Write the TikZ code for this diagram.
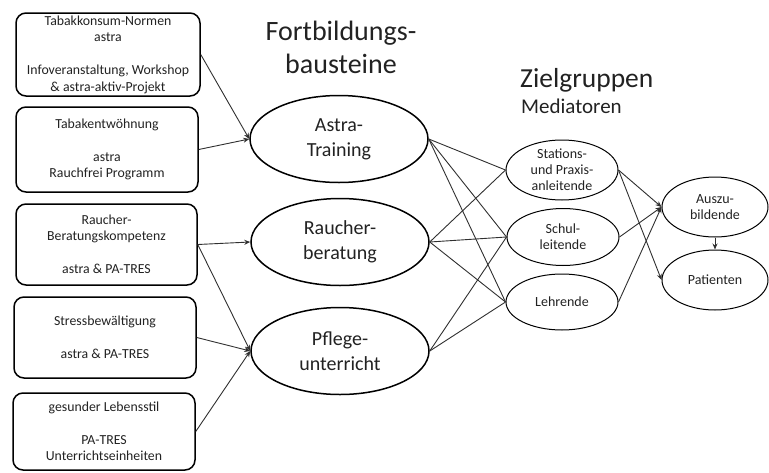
\documentclass[tikz,border=0pt]{standalone}
\usepackage{fontspec}
\setmainfont{Carlito}
\usetikzlibrary{shapes.geometric,arrows.meta}
\definecolor{txt}{HTML}{222222}
\definecolor{ln}{HTML}{303030}
\begin{document}
\begin{tikzpicture}[x=1pt,y=-1pt,
  srcbox/.style={draw=black, line width=1.5pt, rounded corners=10pt, align=center,
    text=txt, font=\fontsize{13.8}{16.5}\selectfont, inner sep=0pt},
  bigell/.style={ellipse, draw=black, line width=1.5pt, align=center, text=txt,
    font=\fontsize{20}{25}\selectfont, inner sep=0pt, minimum width=178pt, minimum height=87pt},
  smell/.style={ellipse, draw=black, line width=1pt, align=center, text=txt,
    font=\fontsize{14}{16}\selectfont, inner sep=0pt},
  title/.style={text=txt, inner sep=0pt},
  arr/.style={draw=ln, line width=0.9pt, -{Stealth[length=6pt,width=5pt]}},
  lnk/.style={draw=ln, line width=0.9pt}
]
\useasboundingbox (0,0) rectangle (769,472);

% source boxes
\node[srcbox, minimum width=184pt, minimum height=83pt] (b1) at (108,54.5)
  {Tabakkonsum-Normen\\astra\\[16.5pt]Infoveranstaltung, Workshop\\\& astra-aktiv-Projekt};
\node[srcbox, minimum width=182pt, minimum height=85pt] (b2) at (107,149.5)
  {Tabakentwöhnung\\[16.5pt]astra\\Rauchfrei Programm};
\node[srcbox, minimum width=181pt, minimum height=81pt] (b3) at (106.5,244.5)
  {Raucher-\\Beratungskompetenz\\[16.5pt]astra \& PA-TRES};
\node[srcbox, minimum width=182pt, minimum height=81pt] (b4) at (105,337.5)
  {Stressbewältigung\\[16.5pt]astra \& PA-TRES};
\node[srcbox, minimum width=182pt, minimum height=77pt] (b5) at (104,431.5)
  {gesunder Lebensstil\\[16.5pt]PA-TRES\\Unterrichtseinheiten};

% titles
\node[title, anchor=base, font=\fontsize{28}{33}\selectfont] (t1) at (341,40) {Fortbildungs-};
\node[title, anchor=base, font=\fontsize{28}{33}\selectfont] (t2) at (341,73) {bausteine};
\node[title, anchor=base west, font=\fontsize{27.5}{33}\selectfont] (t3) at (520,87) {Zielgruppen};
\node[title, anchor=base west, font=\fontsize{21}{25}\selectfont] (t4) at (521,113) {Mediatoren};

% modules
\node[bigell] (astra) at (339,139) {Astra-\\Training};
\node[bigell] (rauch) at (340,242) {Raucher-\\beratung};
\node[bigell] (pflege) at (340,351) {Pflege-\\unterricht};

% mediators
\node[smell, minimum width=112pt, minimum height=60pt] (stat) at (562,170) {Stations-\\und Praxis-\\anleitende};
\node[smell, minimum width=112pt, minimum height=57pt] (schul) at (563,237) {Schul-\\leitende};
\node[smell, minimum width=112pt, minimum height=56pt] (lehr) at (562,302) {Lehrende};

% targets
\node[smell, minimum width=106pt, minimum height=60pt] (azubi) at (715,207) {Auszu-\\bildende};
\node[smell, minimum width=106pt, minimum height=60pt] (pat) at (715,280) {Patienten};

% arrows from boxes
\draw[arr] (b1.east) -- (astra.west);
\draw[arr] (b2.east) -- (astra.west);
\draw[arr] (b3.east) -- (rauch.west);
\draw[arr] (b3.east) -- (pflege.west);
\draw[arr] (b4.east) -- (pflege.west);
\draw[arr] (b5.east) -- (pflege.west);

% module to mediators
\draw[lnk] (astra.east) -- (stat.west);
\draw[lnk] (astra.east) -- (schul.west);
\draw[lnk] (astra.east) -- (lehr.west);
\draw[lnk] (rauch.east) -- (stat.west);
\draw[lnk] (rauch.east) -- (schul.west);
\draw[lnk] (rauch.east) -- (lehr.west);
\draw[lnk] (pflege.east) -- (schul.west);
\draw[lnk] (pflege.east) -- (lehr.west);

% mediators to targets
\draw[arr] (stat.east) -- (azubi.west);
\draw[arr] (stat.east) -- (pat.west);
\draw[arr] (schul.east) -- (azubi.west);
\draw[arr] (lehr.east) -- (azubi.west);
\draw[arr] (azubi.south) -- (pat.north);
\end{tikzpicture}
\end{document}
